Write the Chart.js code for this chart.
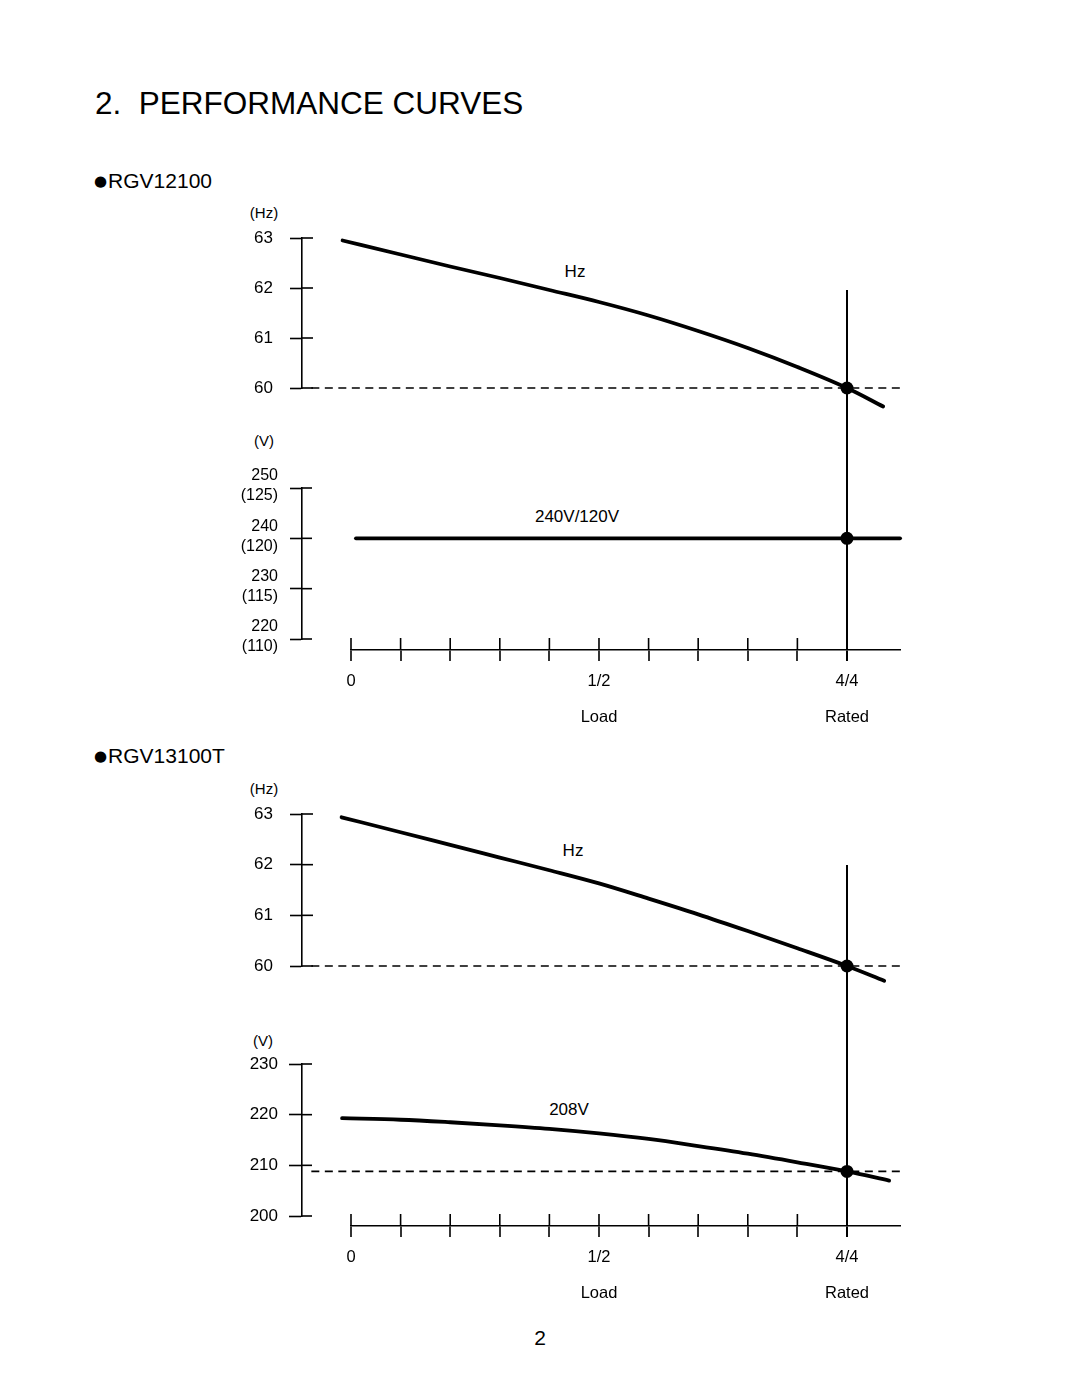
<!DOCTYPE html>
<html>
<head>
<meta charset="utf-8">
<title>Performance Curves</title>
<script src="https://cdn.jsdelivr.net/npm/chart.js@4.4.1/dist/chart.umd.min.js"></script>
<style>
  html, body { margin: 0; padding: 0; background: #fff; }
  #page {
    position: relative; width: 1080px; height: 1397px; overflow: hidden;
    font-family: "Liberation Sans", Arial, sans-serif; color: #000;
  }
  #page canvas { position: absolute; left: 0; top: 0; }
  .t { position: absolute; line-height: 1; white-space: pre; transform: translate(-50%, -50%); }
  .l { position: absolute; line-height: 1; white-space: pre; transform: translateY(-50%); }
  .dot { font-family: "DejaVu Sans", sans-serif; font-size: 15px; vertical-align: 2px; margin-right: 1px; }
</style>
</head>
<body>
<div id="page">
  <div class="l" style="left:95px; top:104px; font-size:31.5px;">2.  PERFORMANCE CURVES</div>

  <div class="l" style="left:94px; top:180px; font-size:21px;"><span class="dot">●</span>RGV12100</div>
  <div class="t" style="left:264px; top:212px; font-size:15px;">(Hz)</div>
  <div class="t" style="left:264px; top:440px; font-size:15px;">(V)</div>
  <div class="t" style="left:575px; top:271px; font-size:17px;">Hz</div>
  <div class="t" style="left:577px; top:516px; font-size:17px;">240V/120V</div>

  <div class="l" style="left:94px; top:755px; font-size:21px;"><span class="dot">●</span>RGV13100T</div>
  <div class="t" style="left:264px; top:788px; font-size:15px;">(Hz)</div>
  <div class="t" style="left:263px; top:1040px; font-size:15px;">(V)</div>
  <div class="t" style="left:573px; top:850px; font-size:17px;">Hz</div>
  <div class="t" style="left:569px; top:1109px; font-size:17px;">208V</div>

  <div class="t" style="left:540px; top:1337px; font-size:21px;">2</div>

  <canvas id="hz1" width="1080" height="1397"></canvas>
  <canvas id="v1" width="1080" height="1397"></canvas>
  <canvas id="load1" width="1080" height="1397"></canvas>
  <canvas id="hz2" width="1080" height="1397"></canvas>
  <canvas id="v2" width="1080" height="1397"></canvas>
  <canvas id="load2" width="1080" height="1397"></canvas>
</div>

<script>
/* Performance curves: frequency and voltage vs load for two generator models.
   Load is expressed as a fraction of rated load (1 = 4/4). */

// ---- data -------------------------------------------------------------
const LOAD_TICKS = [0, 0.1, 0.2, 0.3, 0.4, 0.5, 0.6, 0.7, 0.8, 0.9, 1];
const LOAD_TICK_LABELS = ['0', '', '', '', '', ['1/2', '', 'Load'], '', '', '', '', ['4/4', '', 'Rated']];
const RATED_LOAD = 1;
const RATED_HZ = 60;

const HZ_TICKS = [60, 61, 62, 63];
const HZ_TICK_LABELS = ['60', '61', '62', '63'];

const V1_TICKS = [220, 230, 240, 250];
const V1_TICK_LABELS = [['220', '(110)'], ['230', '(115)'], ['240', '(120)'], ['250', '(125)']];
const V2_TICKS = [200, 210, 220, 230];
const V2_TICK_LABELS = ['200', '210', '220', '230'];

// RGV12100
const RGV12100_LOAD = [-0.017, 0.1, 0.2, 0.3, 0.4, 0.5, 0.6, 0.7, 0.8, 0.9, 1, 1.073];
const RGV12100_HZ = [62.95, 62.67, 62.43, 62.2, 61.96, 61.72, 61.45, 61.14, 60.8, 60.42, 60.0, 59.63];
const RGV12100_V_LOAD = [0.01, 1, 1.107];
const RGV12100_V = [240, 240, 240];

// RGV13100T
const RGV13100T_LOAD = [-0.019, 0.1, 0.2, 0.3, 0.4, 0.5, 0.6, 0.7, 0.8, 0.9, 1, 1.075];
const RGV13100T_HZ = [62.935, 62.64, 62.39, 62.14, 61.89, 61.63, 61.33, 61.02, 60.69, 60.35, 60.0, 59.71];
const RGV13100T_V_LOAD = [-0.018, 0.1, 0.2, 0.3, 0.4, 0.5, 0.6, 0.7, 0.8, 0.9, 1, 1.085];
const RGV13100T_V = [219.3, 219.0, 218.5, 217.9, 217.2, 216.3, 215.2, 213.8, 212.3, 210.6, 208.8, 207.0];
const RGV13100T_RATED_V = 208.8;

// x range shared by every panel (axis line at the left, end of load axis at the right)
const X_MIN = -0.0988;
const X_MAX = 1.1069;
const REF_START = -0.08;

// ---- layout -----------------------------------------------------------
const PAGE_H = 1397;
const AXIS_X = 302;
const RIGHT = 180;
const LOAD_AXIS_H = 80;
const FONT = '"Liberation Sans", Arial, sans-serif';

function pad(top, bottom, left) {
  return { top, bottom: PAGE_H - bottom, left: left || 0, right: RIGHT };
}

// ---- helpers ----------------------------------------------------------
function pts(xs, ys) {
  return xs.map((x, i) => ({ x, y: ys[i] }));
}

function curveDataset(xs, ys) {
  return {
    data: pts(xs, ys),
    borderColor: '#000',
    borderWidth: 3.8,
    borderCapStyle: 'round',
    cubicInterpolationMode: 'monotone',
    capBezierPoints: false,
    clip: false,
    pointRadius: (c) => (c.raw && c.raw.x === RATED_LOAD ? 6.5 : 0),
    pointBackgroundColor: '#000',
    pointBorderWidth: 0,
  };
}

function refDataset(y) {
  return {
    data: pts([REF_START, X_MAX], [y, y]),
    borderColor: '#000',
    borderWidth: 1.7,
    borderDash: [8, 5.5],
    pointRadius: 0,
    clip: false,
  };
}

/** Draws the half of each tick mark that sits on the inner side of the axis line. */
const crossTicks = {
  id: 'crossTicks',
  afterDraw(chart, args, opts) {
    const ctx = chart.ctx;
    ctx.save();
    ctx.strokeStyle = '#000';
    ctx.lineWidth = 1.6;
    (opts.axes || []).forEach(({ id, length }) => {
      const s = chart.scales[id];
      s.ticks.forEach((t) => {
        const p = s.getPixelForValue(t.value);
        ctx.beginPath();
        if (s.isHorizontal()) {
          ctx.moveTo(p, s.top);
          ctx.lineTo(p, s.top - length);
        } else {
          ctx.moveTo(s.right, p);
          ctx.lineTo(s.right + length, p);
        }
        ctx.stroke();
      });
    });
    ctx.restore();
  },
};

function yAxis(min, max, ticks, labels, opt) {
  return {
    type: 'linear',
    position: 'left',
    min,
    max,
    afterBuildTicks: (s) => { s.ticks = ticks.map((v) => ({ value: v })); },
    afterFit: (s) => { s.width = AXIS_X; },
    grid: { drawOnChartArea: false, tickLength: opt.tickLength, tickWidth: 1.6, tickColor: '#000' },
    border: { display: true, color: '#000', width: 1.6 },
    ticks: {
      color: '#000',
      font: { family: FONT, size: opt.size, lineHeight: opt.lineHeight || 1.2 },
      padding: opt.padding,
      labelOffset: opt.labelOffset || 0,
      autoSkip: false,
      callback: (v, i) => labels[i],
    },
  };
}

function hiddenX() {
  return { type: 'linear', display: false, min: X_MIN, max: X_MAX };
}

function baseOptions(padding, scales, inner) {
  return {
    responsive: false,
    animation: false,
    events: [],
    layout: { padding },
    plugins: { legend: { display: false }, tooltip: { enabled: false }, crossTicks: { axes: inner } },
    scales,
  };
}

function renderValuePanel(id, padding, yScale, innerTick, datasets) {
  new Chart(document.getElementById(id), {
    type: 'line',
    data: { datasets },
    options: baseOptions(padding, { x: hiddenX(), y: yScale }, [{ id: 'y', length: innerTick }]),
    plugins: [crossTicks],
  });
}

/** Load axis; its rated grid line is the vertical marker that runs up through both panels. */
function renderLoadAxis(id, markTop, axisY) {
  const isRated = (c) => c.tick && c.tick.value === RATED_LOAD;
  new Chart(document.getElementById(id), {
    type: 'line',
    data: { datasets: [] },
    options: baseOptions({ top: markTop, bottom: PAGE_H - axisY - LOAD_AXIS_H, left: 351, right: RIGHT }, {
      x: {
        type: 'linear',
        position: 'bottom',
        min: 0,
        max: X_MAX,
        afterBuildTicks: (s) => { s.ticks = LOAD_TICKS.map((v) => ({ value: v })); },
        afterFit: (s) => { s.height = LOAD_AXIS_H; },
        grid: {
          drawOnChartArea: true,
          color: (c) => (isRated(c) ? '#000' : 'rgba(0,0,0,0)'),
          lineWidth: 2,
          tickLength: 11,
          tickColor: '#000',
          tickWidth: (c) => (isRated(c) ? 2 : 1.6),
        },
        border: { display: true, color: '#000', width: 1.6 },
        ticks: {
          color: '#000',
          font: { family: FONT, size: 16.5, lineHeight: '18px' },
          padding: 11,
          maxRotation: 0,
          autoSkip: false,
          callback: (v, i) => LOAD_TICK_LABELS[i],
        },
      },
      y: { display: false, min: 0, max: 1 },
    }, [{ id: 'x', length: 12 }]),
    plugins: [crossTicks],
  });
}

// ---- RGV12100 ---------------------------------------------------------
renderValuePanel('hz1', pad(238, 388),
  yAxis(60, 63, HZ_TICKS, HZ_TICK_LABELS, { size: 17, tickLength: 12, padding: 17 }), 11,
  [curveDataset(RGV12100_LOAD, RGV12100_HZ), refDataset(RATED_HZ)]);

renderValuePanel('v1', pad(488, 639),
  yAxis(220, 250, V1_TICKS, V1_TICK_LABELS, { size: 16, lineHeight: '20px', tickLength: 12, padding: 12, labelOffset: -2 }), 10,
  [curveDataset(RGV12100_V_LOAD, RGV12100_V)]);

renderLoadAxis('load1', 290, 650);

// ---- RGV13100T --------------------------------------------------------
renderValuePanel('hz2', pad(814, 966),
  yAxis(60, 63, HZ_TICKS, HZ_TICK_LABELS, { size: 17, tickLength: 12, padding: 17 }), 11,
  [curveDataset(RGV13100T_LOAD, RGV13100T_HZ), refDataset(RATED_HZ)]);

renderValuePanel('v2', pad(1064, 1216),
  yAxis(200, 230, V2_TICKS, V2_TICK_LABELS, { size: 17, tickLength: 13, padding: 11 }), 10,
  [curveDataset(RGV13100T_V_LOAD, RGV13100T_V), refDataset(RGV13100T_RATED_V)]);

renderLoadAxis('load2', 865, 1226);
</script>
</body>
</html>
